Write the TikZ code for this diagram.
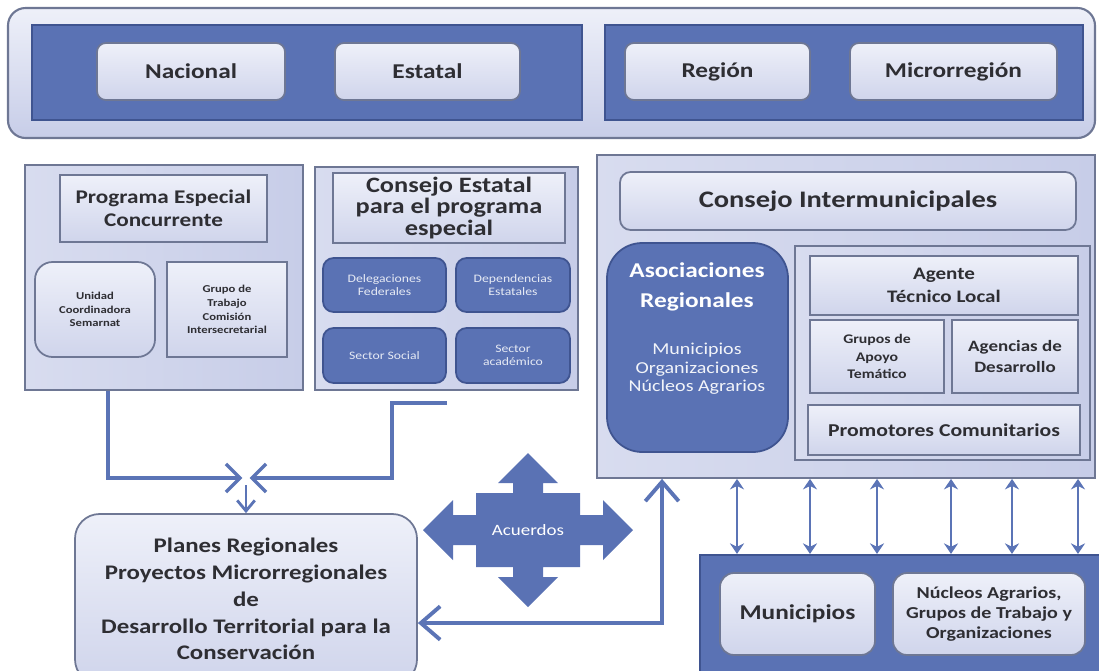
\documentclass[tikz,border=0pt]{standalone}
\usepackage{fontspec}
\setmainfont{Carlito}[FakeStretch=1.2]
\usetikzlibrary{arrows.meta,calc}

\definecolor{lavender}{HTML}{C7CDE8}
\definecolor{paleblue}{HTML}{EEF0F9}
\definecolor{darkblue}{HTML}{5A72B4}
\definecolor{darkedge}{HTML}{3F5490}
\definecolor{greyedge}{HTML}{6E7794}
\definecolor{linkblue}{HTML}{5B74B6}
\definecolor{ink}{HTML}{2E2E33}

\tikzset{
  corners/.style n args={4}{minimum width={(#3-#1)*0.02cm},
    minimum height={(#4-#2)*0.02cm}, at={({(#1+#3)/2},{(#2+#4)/2})}},
  band/.style={draw=greyedge, line width=1.2pt, rounded corners=10pt,
    top color=paleblue, bottom color=lavender, inner sep=0pt},
  frame/.style={draw=greyedge, line width=1pt, left color=lavender!70!white,
    right color=lavender, inner sep=0pt},
  darkgroup/.style={draw=darkedge, line width=1.2pt, fill=darkblue, inner sep=0pt},
  lightbox/.style={draw=greyedge, line width=1pt, top color=paleblue,
    bottom color=lavender!85!white, text=ink, align=center, inner sep=0pt,
    font=\fontsize{12}{14}\selectfont\bfseries},
  darkbox/.style={draw=darkedge, line width=1pt, fill=darkblue, text=white!85!darkblue,
    align=center, inner sep=0pt, rounded corners=6pt,
    font=\fontsize{6.5}{7.4}\selectfont},
  conn/.style={draw=linkblue, line width=2.2pt},
  bigtip/.tip={Straight Barb[length=11pt,width=19pt,line width=2.2pt]},
  midtip/.tip={Straight Barb[length=8pt,width=16pt,line width=2pt]}
}

\begin{document}
\begin{tikzpicture}[x=0.02cm, y=-0.02cm]
  \path[use as bounding box, clip] (0,0) rectangle (1099,670);

  % Levels
  \node[band, corners={8}{8}{1095}{138}] (levels) {};
  \node[darkgroup, corners={32}{25}{582}{120}] (upper) {};
  \node[darkgroup, corners={605}{25}{1083}{120}] (lower) {};
  \node[lightbox, rounded corners=5pt, corners={97}{43}{285}{100}] (nacional) {Nacional};
  \node[lightbox, rounded corners=5pt, corners={335}{43}{520}{100}] (estatal) {Estatal};
  \node[lightbox, rounded corners=5pt, corners={625}{43}{810}{100}] (region) {Región};
  \node[lightbox, rounded corners=5pt, corners={850}{43}{1057}{100}] (micro) {Microrregión};

  % Programa Especial Concurrente
  \node[frame, corners={25}{165}{303}{390}] (prog) {};
  \node[lightbox, corners={60}{175}{267}{242}, font=\fontsize{11}{13}\selectfont\bfseries]
    (progtitle) {Programa Especial\\Concurrente};
  \node[lightbox, rounded corners=10pt, corners={35}{262}{155}{357},
    font=\fontsize{6}{7.6}\selectfont\bfseries] (unidad) {Unidad\\Coordinadora\\Semarnat};
  \node[lightbox, corners={167}{262}{287}{357},
    font=\fontsize{6}{7.9}\selectfont\bfseries] (grupo) {Grupo de\\Trabajo\\Comisión\\Intersecretarial};

  % Consejo Estatal
  \node[frame, corners={315}{167}{578}{390}] (cest) {};
  \node[lightbox, corners={333}{173}{565}{243}, font=\fontsize{12.5}{12.5}\selectfont\bfseries]
    (cesttitle) {Consejo Estatal\\para el programa\\especial};
  \node[darkbox, corners={323}{258}{446}{312}] (deleg) {Delegaciones\\Federales};
  \node[darkbox, corners={456}{258}{570}{312}] (depend) {Dependencias\\Estatales};
  \node[darkbox, corners={323}{328}{446}{383}] (social) {Sector Social};
  \node[darkbox, corners={456}{328}{570}{383}] (academ) {Sector\\académico};

  % Consejo Intermunicipales
  \node[frame, corners={597}{155}{1095}{478}] (bigbox) {};
  \node[lightbox, rounded corners=6pt, corners={620}{172}{1076}{230},
    font=\fontsize{13.5}{15}\selectfont\bfseries] (consint) {Consejo Intermunicipales};
  \node[darkbox, rounded corners=20pt, corners={607}{243}{788}{452}] (asoc) {};
  \node[text=white, align=center, anchor=north, inner sep=0pt,
    font=\fontsize{12}{17}\selectfont\bfseries] (asoctitle) at (697,262) {Asociaciones\\Regionales};
  \node[text=white!92!darkblue, align=center, anchor=north, inner sep=0pt,
    font=\fontsize{9.5}{10.5}\selectfont] (asocmembers) at (697,343) {Municipios\\Organizaciones\\Núcleos Agrarios};
  \node[frame, corners={795}{246}{1090}{460}] (agframe) {};
  \node[lightbox, corners={810}{256}{1078}{315}, font=\fontsize{10}{13.5}\selectfont\bfseries]
    (agente) {Agente\\Técnico Local};
  \node[lightbox, corners={810}{320}{944}{393}, font=\fontsize{7.5}{10}\selectfont\bfseries]
    (apoyo) {Grupos de\\Apoyo\\Temático};
  \node[lightbox, corners={952}{320}{1078}{393}, font=\fontsize{9}{11.5}\selectfont\bfseries]
    (agencias) {Agencias de\\Desarrollo};
  \node[lightbox, corners={808}{405}{1080}{455}, font=\fontsize{10.3}{13}\selectfont\bfseries]
    (promot) {Promotores Comunitarios};

  % Base
  \node[darkgroup, corners={700}{555}{1110}{690}] (base) {};
  \node[lightbox, rounded corners=8pt, corners={720}{573}{875}{655}] (munic) {Municipios};
  \node[lightbox, rounded corners=8pt, corners={893}{573}{1085}{655},
    font=\fontsize{9.5}{11.3}\selectfont\bfseries] (nucleos) {Núcleos Agrarios,\\Grupos de Trabajo y\\Organizaciones};

  % Planes Regionales
  \node[lightbox, rounded corners=14pt, corners={75}{514}{417}{684},
    font=\fontsize{11.8}{15.3}\selectfont\bfseries] (planes)
    {Planes Regionales\\Proyectos Microrregionales\\de\\Desarrollo Territorial para la\\Conservación};

  % Acuerdos
  \fill[darkblue, shift={(528,530)}] (0,-77) -- (30,-47) -- (15,-47) -- (15,-37) -- (52,-37)
    -- (52,-15) -- (75,-15) -- (75,-30) -- (105,0) -- (75,30) -- (75,15) -- (52,15)
    -- (52,37) -- (15,37) -- (15,47) -- (30,47) -- (0,77) -- (-30,47) -- (-15,47)
    -- (-15,37) -- (-52,37) -- (-52,15) -- (-75,15) -- (-75,30) -- (-105,0) -- (-75,-30)
    -- (-75,-15) -- (-52,-15) -- (-52,-37) -- (-15,-37) -- (-15,-47) -- (-30,-47) -- cycle;
  \node[text=white, font=\fontsize{9}{10}\selectfont] (acuerdos) at (528,530) {Acuerdos};

  % Connectors
  \coordinate (merge) at (246,478);
  \coordinate (cestout) at (447,403);
  \coordinate (bend) at (662,623);
  \draw[conn, -midtip] ($(prog.south west)!0.3!(prog.south east)$) |- ([xshift=-2]merge);
  \draw[conn, -midtip] (cestout) -- (cestout -| 392,0) |- ([xshift=2]merge);
  \draw[conn, line width=1.6pt, -{Straight Barb[length=6pt,width=10pt,line width=1.6pt]}]
    ([yshift=-4]merge) -- (planes.north);
  \draw[conn, bigtip-bigtip] (bigbox.south -| bend) -- (bend) -- (planes.east |- bend);
  \foreach \x in {737,810,877,951,1012,1078}
    \draw[conn, line width=1.5pt, {Stealth[length=6pt,width=8pt]}-{Stealth[length=6pt,width=8pt]}]
      (bigbox.south -| \x,0) -- (base.north -| \x,0);
\end{tikzpicture}
\end{document}
